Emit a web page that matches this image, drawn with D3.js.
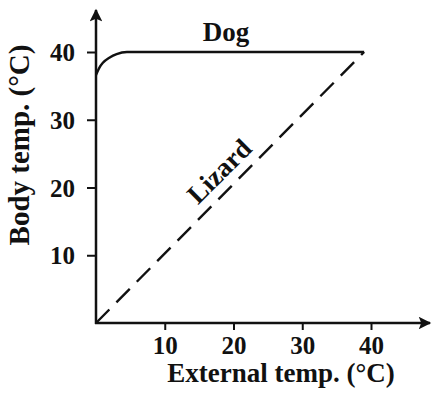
<!DOCTYPE html>
<html>
<head>
<meta charset="utf-8">
<script src="https://cdn.jsdelivr.net/npm/d3@7"></script>
<style>
  body { margin: 0; background: #fff; }
  text { font-family: "Liberation Serif", "Times New Roman", serif; font-weight: bold; fill: #111; }
</style>
</head>
<body>
<svg id="chart" width="432" height="395"></svg>
<script>
// tick values
const xTicks = [10, 20, 30, 40];
const yTicks = [10, 20, 30, 40];

// dog: regulated body temp (external, body)
const dogExternal = [0, 0.5, 1, 2, 3, 4.5, 39];
const dogBody = [36.6, 37.7, 38.4, 39.2, 39.7, 40, 40];

// lizard: follows external temp
const lizardExternal = [0, 39];
const lizardBody = [0, 40];

const svg = d3.select('#chart');

const x = d3.scaleLinear().domain([0, 40]).range([96, 371]);
const y = d3.scaleLinear().domain([0, 40]).range([323, 52]);

const ink = '#111';

// arrow markers
svg.append('defs').append('marker')
  .attr('id', 'arrow')
  .attr('viewBox', '0 0 10 10')
  .attr('refX', 9)
  .attr('refY', 5)
  .attr('markerWidth', 6)
  .attr('markerHeight', 5)
  .attr('markerUnits', 'strokeWidth')
  .attr('orient', 'auto')
  .append('path')
  .attr('d', 'M0,0 L10,5 L0,10 L2,5 Z')
  .attr('fill', ink);

// axes lines with arrowheads
svg.append('line')
  .attr('x1', x(0)).attr('y1', y(0) + 1)
  .attr('x2', x(0)).attr('y2', 10)
  .attr('stroke', ink).attr('stroke-width', 2.5)
  .attr('marker-end', 'url(#arrow)');
svg.append('line')
  .attr('x1', x(0) - 1).attr('y1', y(0))
  .attr('x2', 430).attr('y2', y(0))
  .attr('stroke', ink).attr('stroke-width', 2.5)
  .attr('marker-end', 'url(#arrow)');

// y ticks
const yAxis = svg.append('g')
  .attr('transform', `translate(${x(0)},0)`)
  .call(d3.axisLeft(y).tickValues(yTicks).tickSize(9).tickPadding(12).tickFormat(d3.format('d')));
yAxis.select('.domain').remove();
yAxis.selectAll('line').attr('stroke', ink).attr('stroke-width', 2);
yAxis.selectAll('text').attr('font-size', 25).attr('font-family', null).attr('fill', null).attr('dy', '0.34em');

// x ticks
const xAxis = svg.append('g')
  .attr('transform', `translate(0,${y(0)})`)
  .call(d3.axisBottom(x).tickValues(xTicks).tickSize(7).tickPadding(6).tickFormat(d3.format('d')));
xAxis.select('.domain').remove();
xAxis.selectAll('line').attr('stroke', ink).attr('stroke-width', 2);
xAxis.selectAll('text').attr('font-size', 25).attr('font-family', null).attr('fill', null);

// dog line
const dogData = dogExternal.map((e, i) => ({ ext: e, body: dogBody[i] }));
svg.append('path')
  .datum(dogData)
  .attr('fill', 'none')
  .attr('stroke', ink)
  .attr('stroke-width', 2.4)
  .attr('d', d3.line().x(d => x(d.ext)).y(d => y(d.body)).curve(d3.curveMonotoneX));

// lizard line
const lizardData = lizardExternal.map((e, i) => ({ ext: e, body: lizardBody[i] }));
svg.append('path')
  .datum(lizardData)
  .attr('fill', 'none')
  .attr('stroke', ink)
  .attr('stroke-width', 2.4)
  .attr('stroke-dasharray', '19,10')
  .attr('d', d3.line().x(d => x(d.ext)).y(d => y(d.body)));

// series labels
svg.append('text')
  .attr('x', 226).attr('y', 41)
  .attr('text-anchor', 'middle')
  .attr('font-size', 27)
  .text('Dog');

svg.append('text')
  .attr('transform', 'translate(219,171) rotate(-45)')
  .attr('text-anchor', 'middle')
  .attr('dy', '0.35em')
  .attr('font-size', 27)
  .text('Lizard');

// axis titles
svg.append('text')
  .attr('x', 281).attr('y', 382)
  .attr('text-anchor', 'middle')
  .attr('font-size', 27)
  .text('External temp. (°C)');

svg.append('text')
  .attr('transform', 'translate(29,145) rotate(-90)')
  .attr('text-anchor', 'middle')
  .attr('font-size', 29)
  .text('Body temp. (°C)');
</script>
</body>
</html>
